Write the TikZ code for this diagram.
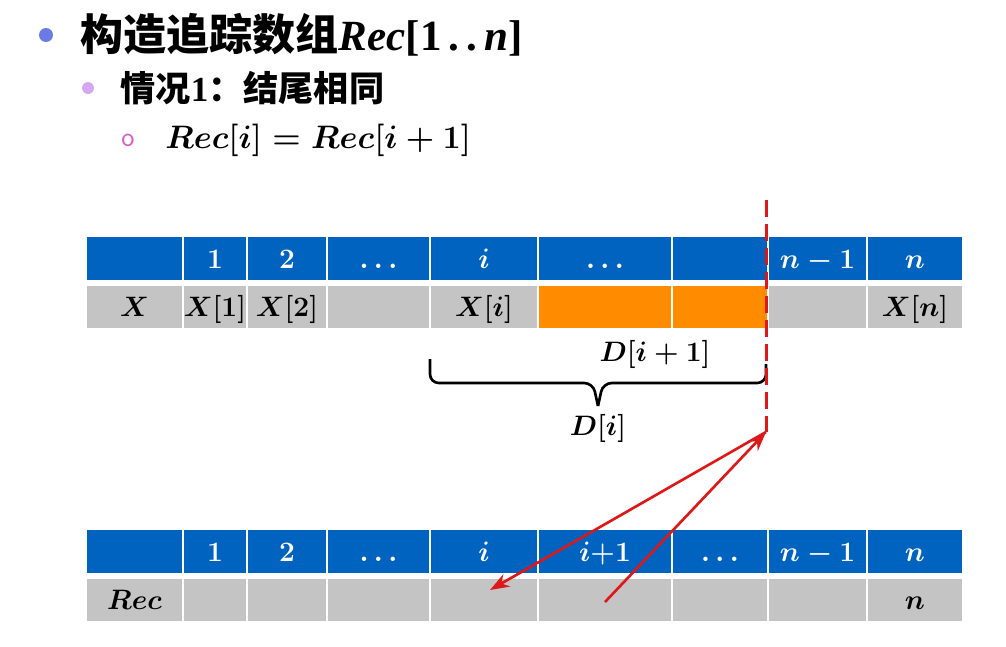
\RequirePackage{fix-cm}
\documentclass[tikz,border=0pt]{standalone}
\usepackage{fontspec}
\usepackage{amsmath}
\usepackage{tikz}
\usetikzlibrary{arrows.meta, positioning}
\newfontfamily\cjk{Noto Sans CJK SC}
\newfontfamily\serifbold{Liberation Serif}

\definecolor{headblue}{RGB}{0,99,192}
\definecolor{cellgray}{RGB}{196,196,196}
\definecolor{hotorange}{RGB}{255,140,0}
\definecolor{cutred}{RGB}{222,24,24}
\definecolor{dotblue}{RGB}{106,123,230}
\definecolor{dotlilac}{RGB}{212,169,242}
\definecolor{dotpink}{RGB}{212,95,200}

\tikzset{
    cell/.style={rectangle, draw=white, line width=0.8pt, inner sep=0pt, minimum height=0.87cm, text height=11pt, text depth=0pt, font=\fontsize{16}{19}\selectfont\boldmath},
    head/.style={cell, fill=headblue, text=white},
    data/.style={cell, fill=cellgray, text=black},
    hot/.style={cell, fill=hotorange},
    bigtext/.style={inner sep=0pt, anchor=west}
}

\begin{document}
\begin{tikzpicture}[x=0.02cm, y=-0.02cm]

    \useasboundingbox (0,0) rectangle (1006,646);

    % Bullet lines
    \node (dot1) [circle, fill=dotblue, minimum size=0.28cm, inner sep=0pt] at (46,35) {};
    \node (title) [bigtext, right=0.54cm of dot1, font=\bfseries\fontsize{24.5}{28}\selectfont] {{\cjk 构造追踪数组}{\serifbold\itshape Rec}{\serifbold[1\,.\,.\,{\itshape n}]}};
    \node (dot2) [circle, fill=dotlilac, minimum size=0.24cm, inner sep=0pt] at (88,88) {};
    \node (case) [bigtext, right=0.52cm of dot2, font=\cjk\bfseries\fontsize{20}{24}\selectfont] {情况{\serifbold 1}：结尾相同};
    \node (dot3) [inner sep=0pt, text=dotpink, font=\sffamily\fontsize{16}{18}\selectfont] at (128,140) {o};
    \node (rule) [bigtext, right=0.6cm of dot3, font=\fontsize{18.5}{22}\selectfont\boldmath] {$Rec[i]=Rec[i+1]$};

    % Array X: index row
    \node (xh0) [head, minimum width=1.94cm] at (134.5,258.5) {};
    \node (xh1) [head, minimum width=1.28cm] at (215,258.5) {$1$};
    \node (xh2) [head, minimum width=1.60cm] at (287,258.5) {$2$};
    \node (xh3) [head, minimum width=2.06cm] at (378.5,258.5) {$\ldots$};
    \node (xh4) [head, minimum width=2.16cm] at (484,258.5) {$i$};
    \node (xh5) [head, minimum width=2.68cm] at (605,258.5) {$\ldots$};
    \node (xh6) [head, minimum width=1.92cm] at (720,258.5) {};
    \node (xh7) [head, minimum width=1.98cm] at (817.5,258.5) {$n-1$};
    \node (xh8) [head, minimum width=1.92cm] at (915,258.5) {$n$};

    % Array X: values
    \node (xd0) [data, minimum width=1.94cm] at (134.5,307) {$X$};
    \node (xd1) [data, minimum width=1.28cm] at (215,307) {$X[1]$};
    \node (xd2) [data, minimum width=1.60cm] at (287,307) {$X[2]$};
    \node (xd3) [data, minimum width=2.06cm] at (378.5,307) {};
    \node (xd4) [data, minimum width=2.16cm] at (484,307) {$X[i]$};
    \node (xd5) [hot, minimum width=2.68cm] at (605,307) {};
    \node (xd6) [hot, minimum width=1.92cm] at (720,307) {};
    \node (xd7) [data, minimum width=1.98cm] at (817.5,307) {};
    \node (xd8) [data, minimum width=1.92cm] at (915,307) {$X[n]$};

    % Array Rec: index row
    \node (rh0) [head, minimum width=1.94cm] at (134.5,551.5) {};
    \node (rh1) [head, minimum width=1.28cm] at (215,551.5) {$1$};
    \node (rh2) [head, minimum width=1.60cm] at (287,551.5) {$2$};
    \node (rh3) [head, minimum width=2.06cm] at (378.5,551.5) {$\ldots$};
    \node (rh4) [head, minimum width=2.16cm] at (484,551.5) {$i$};
    \node (rh5) [head, minimum width=2.68cm] at (605,551.5) {$i{+}1$};
    \node (rh6) [head, minimum width=1.92cm] at (720,551.5) {$\ldots$};
    \node (rh7) [head, minimum width=1.98cm] at (817.5,551.5) {$n-1$};
    \node (rh8) [head, minimum width=1.92cm] at (915,551.5) {$n$};

    % Array Rec: values
    \node (rd0) [data, minimum width=1.94cm] at (134.5,600) {$Rec$};
    \node (rd1) [data, minimum width=1.28cm] at (215,600) {};
    \node (rd2) [data, minimum width=1.60cm] at (287,600) {};
    \node (rd3) [data, minimum width=2.06cm] at (378.5,600) {};
    \node (rd4) [data, minimum width=2.16cm] at (484,600) {};
    \node (rd5) [data, minimum width=2.68cm] at (605,600) {};
    \node (rd6) [data, minimum width=1.92cm] at (720,600) {};
    \node (rd7) [data, minimum width=1.98cm] at (817.5,600) {};
    \node (rd8) [data, minimum width=1.92cm] at (915,600) {$n$};

    % Brace and labels
    \coordinate (braceL) at (430,359);
    \coordinate (braceR) at (766,364);
    \coordinate (braceML) at (593,383);
    \coordinate (braceMR) at (603,383);
    \coordinate (braceTip) at (598,406);
    \draw[line width=1.5pt, rounded corners=5pt] (braceL) |- (braceML) -- (braceTip);
    \draw[line width=1.5pt, rounded corners=5pt] (braceR) |- (braceMR) -- (braceTip);
    \node (dnext) [font=\fontsize{16}{19}\selectfont\boldmath] at (655,354) {$D[i+1]$};
    \node (dcur) [font=\fontsize{16}{19}\selectfont\boldmath] at (598,428) {$D[i]$};

    % Cut line and arrows
    \coordinate (cutTop) at (766,200);
    \coordinate (cut) at (766,432);
    \coordinate (recI) at (490,590);
    \coordinate (recNext) at (605,602);
    \draw[cutred, line width=1.7pt, dash pattern=on 0.34cm off 0.14cm] (cutTop) -- (cut);
    \draw[-{Stealth[length=11pt, width=8pt]}, cutred, line width=1.5pt] (cut) -- (recI);
    \draw[-{Stealth[length=11pt, width=8pt]}, cutred, line width=1.5pt] (recNext) -- (cut);

\end{tikzpicture}
\end{document}
